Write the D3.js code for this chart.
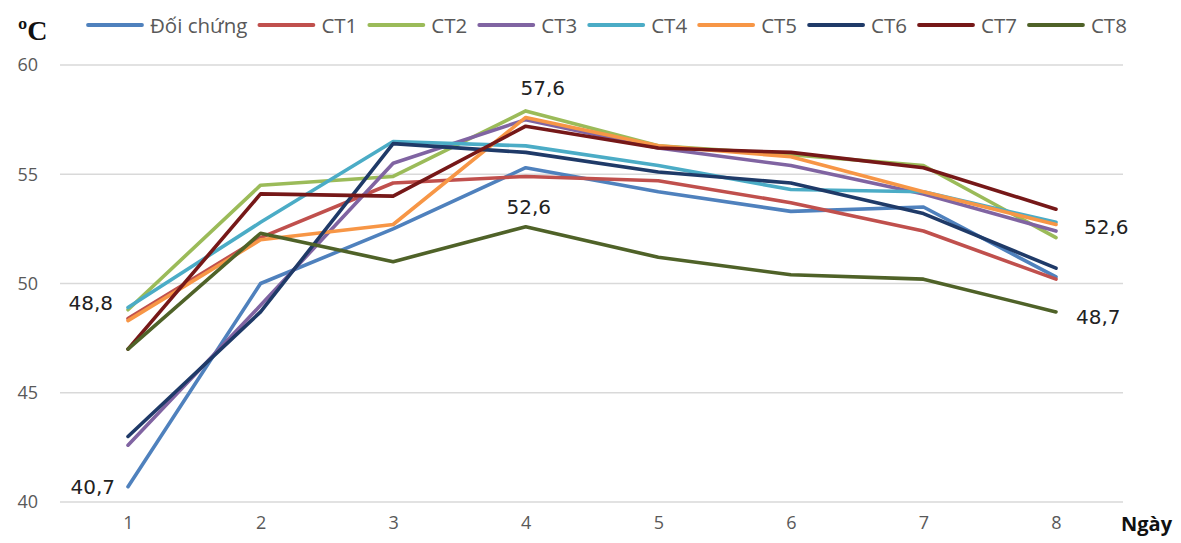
<!DOCTYPE html>
<html><head><meta charset="utf-8">
<script src="https://cdn.jsdelivr.net/npm/d3@7"></script>
<style>body{margin:0;background:#fff}svg{display:block}</style>
</head><body><svg id="c" width="1181" height="543"></svg>
<script>
const days = [1,2,3,4,5,6,7,8];
const seriesNames = ["Đối chứng","CT1","CT2","CT3","CT4","CT5","CT6","CT7","CT8"];
const seriesColors = ["#4F81BD","#C0504D","#9BBB59","#8064A2","#4BACC6","#F79646","#1F3A68","#761818","#4F6228"];
const doiChung = [40.7,50.0,52.5,55.3,54.2,53.3,53.5,50.3];
const ct1 = [48.4,52.1,54.6,54.9,54.7,53.7,52.4,50.2];
const ct2 = [48.8,54.5,54.9,57.9,56.3,55.9,55.4,52.1];
const ct3 = [42.6,49.0,55.5,57.5,56.2,55.4,54.1,52.4];
const ct4 = [48.9,52.8,56.5,56.3,55.4,54.3,54.2,52.8];
const ct5 = [48.3,52.0,52.7,57.6,56.3,55.8,54.2,52.7];
const ct6 = [43.0,48.7,56.4,56.0,55.1,54.6,53.2,50.7];
const ct7 = [47.0,54.1,54.0,57.2,56.2,56.0,55.3,53.4];
const ct8 = [47.0,52.3,51.0,52.6,51.2,50.4,50.2,48.7];
const seriesValues = [doiChung,ct1,ct2,ct3,ct4,ct5,ct6,ct7,ct8];
const yTicks = [40,45,50,55,60];
const annotations = [
  {s:0, d:1, text:"40,7", dx:-13, dy:0,   anchor:"end"},
  {s:2, d:1, text:"48,8", dx:-15, dy:-7,  anchor:"end"},
  {s:5, d:4, text:"57,6", dx:17,  dy:-29, anchor:"middle"},
  {s:8, d:4, text:"52,6", dx:3,   dy:-20, anchor:"middle"},
  {s:4, d:8, text:"52,6", dx:28,  dy:5,   anchor:"start"},
  {s:8, d:8, text:"48,7", dx:20,  dy:5,   anchor:"start"}
];

const svg = d3.select("#c");
const x = d3.scalePoint().domain(days).range([128,1056]);
const y = d3.scaleLinear().domain([40,60]).range([502,65]);
const tickFont = "'Open Sans',sans-serif";

// grid
svg.append("g").selectAll("line").data(yTicks).join("line")
  .attr("x1",60).attr("x2",1123)
  .attr("y1",d=>y(d)).attr("y2",d=>y(d))
  .attr("stroke","#D9D9D9").attr("stroke-width",1.3);

// y axis labels
const yAxis = svg.append("g").attr("transform","translate(38,0)")
  .call(d3.axisLeft(y).tickValues(yTicks).tickSize(0).tickPadding(0));
yAxis.select(".domain").remove();
yAxis.selectAll("text").attr("fill","#595959").style("font-family",tickFont).style("font-size","18px");

// x axis labels
const xAxis = svg.append("g").attr("transform","translate(0,516)")
  .call(d3.axisBottom(x).tickSize(0).tickPadding(0));
xAxis.select(".domain").remove();
xAxis.selectAll("text").attr("fill","#595959").style("font-family",tickFont).style("font-size","18px");

// lines
const line = d3.line().x((d,i)=>x(days[i])).y(d=>y(d));
svg.append("g").selectAll("path").data(seriesValues).join("path")
  .attr("d",line).attr("fill","none")
  .attr("stroke",(d,i)=>seriesColors[i]).attr("stroke-width",3.6)
  .attr("stroke-linejoin","round").attr("stroke-linecap","round");

// annotations
svg.append("g").selectAll("text").data(annotations).join("text")
  .attr("x",d=>x(d.d)+d.dx)
  .attr("y",d=>y(seriesValues[d.s][d.d-1])+d.dy)
  .attr("text-anchor",d=>d.anchor)
  .attr("dominant-baseline","central")
  .attr("fill","#222").style("font-family","'DejaVu Sans',sans-serif").style("font-size","20px")
  .text(d=>d.text);

// unit labels
svg.append("text").attr("x",18).attr("y",40).text("ºC")
  .attr("fill","#111").style("font-family","'Liberation Serif',serif").style("font-weight","bold").style("font-size","28px");
svg.append("text").attr("x",1121).attr("y",531).text("Ngày")
  .attr("fill","#111").style("font-family","'Open Sans',sans-serif").style("font-weight","bold").style("font-size","20px");

// legend
const leg = svg.append("g");
let lx = 88;
seriesNames.forEach((n,i)=>{
  leg.append("line").attr("x1",lx).attr("x2",lx+54).attr("y1",25).attr("y2",25)
    .attr("stroke",seriesColors[i]).attr("stroke-width",3.8).attr("stroke-linecap","round");
  const t = leg.append("text").attr("x",lx+62).attr("y",25).attr("dominant-baseline","central")
    .attr("fill","#595959").style("font-family","'Open Sans',sans-serif").style("font-size","20.5px").text(n);
  lx += 62 + t.node().getComputedTextLength() + 12;
});
</script></body></html>
